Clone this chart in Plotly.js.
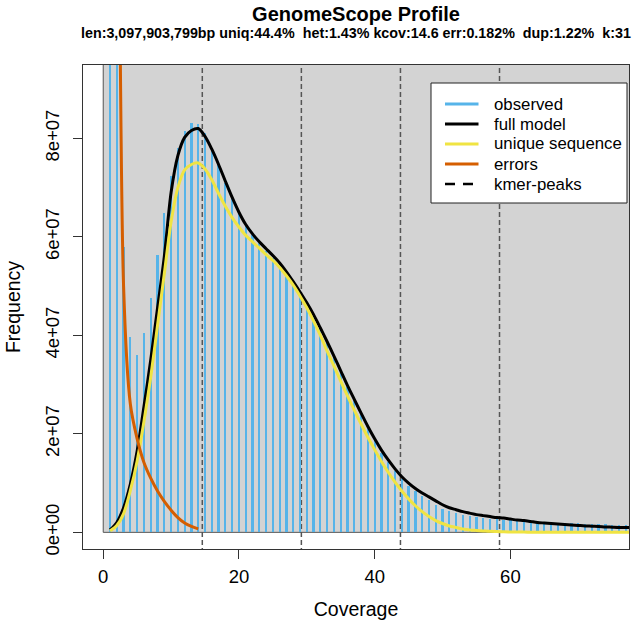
<!DOCTYPE html>
<html>
<head>
<meta charset="utf-8">
<script src="https://cdn.plot.ly/plotly-3.0.1.min.js"></script>
<style>html,body{margin:0;padding:0;background:#fff}#chart{width:633px;height:634px}</style>
</head>
<body>
<div id="chart"></div>
<script>
// ---- data ----
const coverage = [];
for (let i = 1; i <= 78; i++) coverage.push(i);

// observed k-mer frequency (integer coverage 1..78)
const observed = [
  3.0e8, 1.5e8, 5.8e7, 3.96e7, 3.6e7, 4.04e7, 4.75e7, 5.63e7, 6.48e7, 7.24e7,
  7.8e7, 8.16e7, 8.32e7, 8.3e7, 8.1e7, 7.8e7, 7.45e7, 7.1e7, 6.78e7, 6.48e7,
  6.22e7, 6.03e7, 5.87e7, 5.72e7, 5.58e7, 5.43e7, 5.26e7, 5.06e7, 4.86e7, 4.63e7,
  4.4e7, 4.12e7, 3.84e7, 3.55e7, 3.25e7, 2.95e7, 2.66e7, 2.38e7, 2.1e7, 1.85e7,
  1.62e7, 1.42e7, 1.24e7, 1.08e7, 0.95e7, 0.84e7, 0.74e7, 0.66e7, 0.56e7, 0.48e7,
  0.43e7, 0.39e7, 0.36e7, 0.33e7, 0.31e7, 0.29e7, 0.28e7, 0.27e7, 0.26e7, 0.25e7,
  0.24e7, 0.23e7, 0.22e7, 0.21e7, 0.205e7, 0.2e7, 0.195e7, 0.19e7, 0.185e7, 0.18e7,
  0.175e7, 0.17e7, 0.165e7, 0.16e7, 0.155e7, 0.155e7, 0.15e7, 0.15e7
];

// full model
const fullModel = [
  0.05e7, 0.2e7, 0.5e7, 0.98e7, 1.65e7, 2.55e7, 3.5e7, 4.55e7, 5.6e7, 6.9e7,
  7.65e7, 8.02e7, 8.16e7, 8.2e7, 8.04e7, 7.78e7, 7.47e7, 7.13e7, 6.8e7, 6.5e7,
  6.25e7, 6.06e7, 5.9e7, 5.76e7, 5.62e7, 5.47e7, 5.29e7, 5.09e7, 4.88e7, 4.66e7,
  4.42e7, 4.15e7, 3.87e7, 3.58e7, 3.28e7, 2.98e7, 2.7e7, 2.42e7, 2.15e7, 1.9e7,
  1.67e7, 1.47e7, 1.29e7, 1.13e7, 1.0e7, 0.89e7, 0.8e7, 0.72e7, 0.64e7, 0.56e7,
  0.5e7, 0.46e7, 0.42e7, 0.39e7, 0.36e7, 0.34e7, 0.32e7, 0.30e7, 0.29e7, 0.27e7,
  0.25e7, 0.24e7, 0.22e7, 0.20e7, 0.19e7, 0.18e7, 0.17e7, 0.16e7, 0.15e7, 0.14e7,
  0.13e7, 0.125e7, 0.12e7, 0.11e7, 0.105e7, 0.1e7, 0.1e7, 0.095e7
];

// unique sequence
const uniqueSeq = [
  0.03e7, 0.14e7, 0.38e7, 0.85e7, 1.45e7, 2.25e7, 3.15e7, 4.2e7, 5.25e7, 6.3e7,
  7.0e7, 7.36e7, 7.47e7, 7.5e7, 7.38e7, 7.16e7, 6.88e7, 6.62e7, 6.39e7, 6.2e7,
  6.03e7, 5.9e7, 5.77e7, 5.64e7, 5.52e7, 5.38e7, 5.21e7, 5.02e7, 4.8e7, 4.56e7,
  4.29e7, 4.0e7, 3.68e7, 3.38e7, 3.07e7, 2.77e7, 2.48e7, 2.2e7, 1.93e7, 1.68e7,
  1.44e7, 1.22e7, 1.02e7, 0.84e7, 0.68e7, 0.54e7, 0.42e7, 0.32e7, 0.24e7, 0.18e7,
  0.13e7, 0.1e7, 0.07e7, 0.05e7, 0.04e7, 0.03e7, 0.02e7, 0.015e7, 0.01e7, 0.008e7,
  0.006e7, 0.005e7, 0.004e7, 0.003e7, 0.002e7, 0.002e7, 0.001e7, 0.001e7, 0.001e7, 0.001e7,
  0, 0, 0, 0, 0, 0, 0, 0
];

// errors (coverage 1..14)
const errCoverage = [1, 2, 3, 4, 5, 6, 7, 8, 9, 10, 11, 12, 13, 14];
const errors = [6.0e8, 2.1e8, 5.0e7, 2.6e7, 1.9e7, 1.42e7, 1.1e7, 0.84e7, 0.63e7, 0.45e7, 0.3e7, 0.19e7, 0.12e7, 0.07e7];

// k-mer peaks
const kmerPeaks = [14.6, 29.2, 43.8, 58.4];

const xTickVals = [0, 20, 40, 60];
const xTickText = ['0', '20', '40', '60'];
const yTickVals = [0, 2e7, 4e7, 6e7, 8e7];
const yTickText = ['0e+00', '2e+07', '4e+07', '6e+07', '8e+07'];

const titleText = 'GenomeScope Profile';
const subtitleText = 'len:3,097,903,799bp uniq:44.4%\u00a0 het:1.43% kcov:14.6 err:0.182%\u00a0 dup:1.22%\u00a0 k:31';
const legendNames = ['observed', 'full model', 'unique sequence', 'errors', 'kmer-peaks'];

// ---- styling ----
const FONT = 'Liberation Sans, Arial, Helvetica, sans-serif';
const C_OBS = '#56B4E9', C_FULL = '#000000', C_UNIQ = '#F0E442', C_ERR = '#D55E00', C_PEAK = '#555555';
const legendColors = [C_OBS, C_FULL, C_UNIQ, C_ERR, '#000000'];
const legendDash = ['solid', 'solid', 'solid', 'solid', '10px,8px'];

// plot area in pixels (for converting legend placement to paper coords)
const PL = 83, PR = 629, PT = 65, PB = 549;
const px2x = p => (p - PL) / (PR - PL);
const px2y = p => (PB - p) / (PB - PT);

const traces = [
  { type: 'bar', x: coverage, y: observed, width: 0.33, marker: { color: C_OBS, line: { width: 0 } },
    name: legendNames[0], showlegend: false },
  { type: 'scatter', mode: 'lines', x: coverage, y: fullModel, name: legendNames[1], showlegend: false,
    line: { color: C_FULL, width: 3, shape: 'spline', smoothing: 0.8 } },
  { type: 'scatter', mode: 'lines', x: coverage, y: uniqueSeq, name: legendNames[2], showlegend: false,
    line: { color: C_UNIQ, width: 3, shape: 'spline', smoothing: 0.8 } },
  { type: 'scatter', mode: 'lines', x: errCoverage, y: errors, name: legendNames[3], showlegend: false,
    line: { color: C_ERR, width: 3, shape: 'spline', smoothing: 0.8 } }
];

const shapes = [
  { type: 'rect', xref: 'x', yref: 'y', x0: 0, x1: 1000, y0: 0, y1: 1e9,
    fillcolor: '#D3D3D3', line: { color: '#555', width: 1 }, layer: 'below' }
];
kmerPeaks.forEach(p => shapes.push({
  type: 'line', xref: 'x', yref: 'y', x0: p, x1: p, y0: -1e9, y1: 1e9,
  line: { color: C_PEAK, width: 1.5, dash: '5px,3px' }, layer: 'below'
}));

const annotations = [
  { text: subtitleText, xref: 'paper', yref: 'paper', x: 0.5, y: px2y(33),
    xanchor: 'center', yanchor: 'middle', showarrow: false,
    font: { family: FONT, size: 14.3, weight: 'bold', color: '#000' } }
];

// legend box (drawn by hand to match R's legend layout)
shapes.push({ type: 'rect', xref: 'paper', yref: 'paper',
  x0: px2x(431), x1: px2x(627), y0: px2y(203), y1: px2y(83),
  fillcolor: '#ffffff', line: { color: '#222', width: 1 }, layer: 'above' });
legendNames.forEach((name, i) => {
  const rowY = px2y(104 + 20 * i);
  shapes.push({ type: 'line', xref: 'paper', yref: 'paper',
    x0: px2x(445), x1: px2x(i === 4 ? 473 : 478.5), y0: rowY, y1: rowY,
    line: { color: legendColors[i], width: i === 4 ? 2.5 : 3, dash: legendDash[i] }, layer: 'above' });
  annotations.push({ text: name, xref: 'paper', yref: 'paper', x: px2x(492), y: rowY,
    xanchor: 'left', yanchor: 'middle', showarrow: false,
    font: { family: FONT, size: 16.8, color: '#000' } });
});

const layout = {
  width: 633, height: 634,
  margin: { l: PL, r: 633 - PR, t: PT, b: 634 - PB },
  paper_bgcolor: '#fff', plot_bgcolor: '#fff',
  font: { family: FONT, color: '#000', size: 18.5 },
  bargap: 0,
  showlegend: false,
  title: { text: titleText, x: 0.5, xref: 'paper', xanchor: 'center',
    y: 1 - 14 / 634, yref: 'container', yanchor: 'middle',
    font: { family: FONT, size: 20, weight: 'bold', color: '#000' } },
  annotations: annotations,
  xaxis: {
    range: [-2.98, 77.48], tickvals: xTickVals, ticktext: xTickText,
    ticks: 'outside', ticklen: 9, tickwidth: 1, tickcolor: '#333',
    showline: true, mirror: true, linecolor: '#333', linewidth: 1,
    showgrid: false, zeroline: false, tickfont: { size: 18.5 }, ticklabelstandoff: 2,
    title: { text: 'Coverage', font: { size: 19.5 }, standoff: 16 }
  },
  yaxis: {
    range: [-3.38e6, 9.49e7], tickvals: yTickVals, ticktext: yTickText, tickangle: -90,
    ticks: 'outside', ticklen: 9, tickwidth: 1, tickcolor: '#333',
    showline: true, mirror: true, linecolor: '#333', linewidth: 1,
    showgrid: false, zeroline: false, tickfont: { size: 18.5 }, ticklabelstandoff: 7,
    title: { text: 'Frequency', font: { size: 19.5 }, standoff: 15 }
  },
  shapes: shapes
};

Plotly.newPlot('chart', traces, layout, { staticPlot: true, displayModeBar: false });
</script>
</body>
</html>
